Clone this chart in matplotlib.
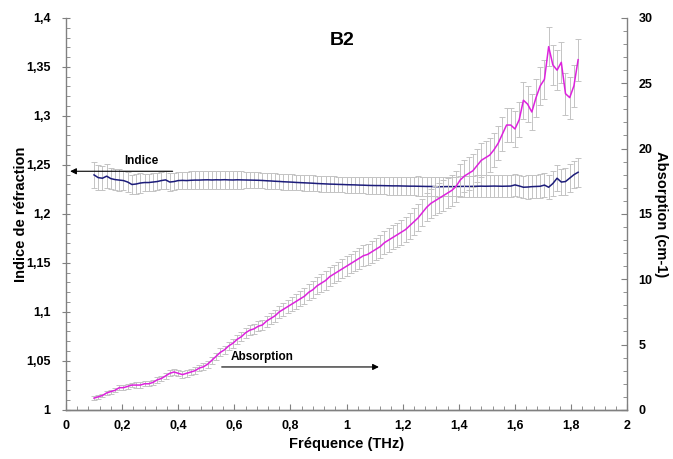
import numpy as np
import matplotlib
matplotlib.use("Agg")
import matplotlib.pyplot as plt
from matplotlib.ticker import MultipleLocator, FuncFormatter

plt.rcParams['font.family'] = ['Liberation Sans', 'DejaVu Sans']
plt.rcParams['font.weight'] = 'bold'

# frequency grid (THz), 0.100 -> 1.825 step 0.015
freq = np.round(0.1 + 0.015 * np.arange(116), 3)

indice = [
    1.2398, 1.2370, 1.2364, 1.2385, 1.2360, 1.2350, 1.2345, 1.2340, 1.2325, 1.2300,
    1.2305, 1.2315, 1.2320, 1.2320, 1.2325, 1.2330, 1.2340, 1.2347, 1.2325, 1.2330,
    1.2340, 1.2342, 1.2340, 1.2343, 1.2345, 1.2345, 1.2347, 1.2348, 1.2346, 1.2348,
    1.2347, 1.2349, 1.2347, 1.2346, 1.2348, 1.2347, 1.2346, 1.2345, 1.2344, 1.2343,
    1.2341, 1.2338, 1.2336, 1.2333, 1.2331, 1.2328, 1.2326, 1.2324, 1.2321, 1.2319,
    1.2317, 1.2315, 1.2313, 1.2310, 1.2308, 1.2306, 1.2304, 1.2303, 1.2301, 1.2300,
    1.2298, 1.2297, 1.2296, 1.2294, 1.2293, 1.2291, 1.2290, 1.2289, 1.2289, 1.2288,
    1.2287, 1.2286, 1.2286, 1.2285, 1.2284, 1.2283, 1.2283, 1.2282, 1.2281, 1.2280,
    1.2280, 1.2278, 1.2277, 1.2278, 1.2279, 1.2278, 1.2279, 1.2280, 1.2281, 1.2280,
    1.2281, 1.2282, 1.2283, 1.2282, 1.2283, 1.2284, 1.2283, 1.2282, 1.2283, 1.2284,
    1.2296, 1.2285, 1.2272, 1.2274, 1.2278, 1.2280, 1.2282, 1.2294, 1.2272, 1.2310,
    1.2364, 1.2325, 1.2330, 1.2365, 1.2400, 1.2425,
]

indice_err = [
    0.013, 0.013, 0.012, 0.012, 0.011, 0.011, 0.011, 0.010, 0.010, 0.010,
    0.010, 0.010, 0.009, 0.009, 0.009, 0.009, 0.009, 0.009, 0.009, 0.009,
    0.009, 0.009, 0.009, 0.009, 0.009, 0.009, 0.009, 0.009, 0.009, 0.009,
    0.009, 0.009, 0.009, 0.009, 0.009, 0.009, 0.008, 0.008, 0.008, 0.008,
    0.008, 0.008, 0.008, 0.008, 0.008, 0.008, 0.008, 0.008, 0.008, 0.008,
    0.008, 0.008, 0.008, 0.008, 0.008, 0.008, 0.008, 0.008, 0.008, 0.008,
    0.008, 0.008, 0.008, 0.008, 0.008, 0.009, 0.009, 0.009, 0.009, 0.009,
    0.009, 0.009, 0.009, 0.009, 0.009, 0.009, 0.009, 0.010, 0.010, 0.010,
    0.010, 0.010, 0.010, 0.010, 0.010, 0.010, 0.010, 0.011, 0.011, 0.011,
    0.011, 0.011, 0.011, 0.011, 0.011, 0.011, 0.011, 0.011, 0.011, 0.011,
    0.011, 0.011, 0.011, 0.012, 0.012, 0.012, 0.012, 0.012, 0.012, 0.013,
    0.013, 0.013, 0.014, 0.014, 0.014, 0.015,
]

absorption = [
    0.9, 1.0, 1.1, 1.3, 1.4, 1.5, 1.7, 1.7, 1.8, 1.9,
    1.9, 1.9, 2.0, 2.0, 2.1, 2.3, 2.4, 2.6, 2.8, 2.9,
    2.8, 2.7, 2.8, 2.9, 3.0, 3.2, 3.3, 3.5, 3.8, 4.1,
    4.4, 4.6, 4.9, 5.1, 5.4, 5.6, 5.9, 6.1, 6.2, 6.4,
    6.5, 6.8, 7.0, 7.2, 7.5, 7.7, 7.9, 8.1, 8.3, 8.5,
    8.7, 9.0, 9.2, 9.5, 9.7, 9.9, 10.2, 10.4, 10.6, 10.8,
    11.0, 11.2, 11.4, 11.6, 11.8, 11.9, 12.1, 12.3, 12.5, 12.8,
    13.0, 13.2, 13.4, 13.6, 13.8, 14.1, 14.4, 14.7, 15.1, 15.5,
    15.8, 16.0, 16.2, 16.4, 16.6, 16.8, 17.1, 17.6, 17.9, 18.1,
    18.3, 18.7, 19.1, 19.3, 19.5, 19.9, 20.4, 21.1, 21.8, 21.8,
    21.5, 22.2, 23.7, 23.4, 22.8, 23.9, 24.8, 25.3, 27.8, 26.4,
    26.0, 26.6, 24.2, 23.9, 24.8, 26.8,
]

absorption_err = [
    0.15, 0.15, 0.15, 0.15, 0.15, 0.15, 0.18, 0.18, 0.18, 0.18,
    0.2, 0.2, 0.2, 0.2, 0.2, 0.22, 0.22, 0.22, 0.24, 0.24,
    0.24, 0.24, 0.25, 0.25, 0.25, 0.26, 0.26, 0.27, 0.28, 0.29,
    0.3, 0.31, 0.32, 0.33, 0.34, 0.35, 0.36, 0.37, 0.38, 0.39,
    0.4, 0.42, 0.44, 0.46, 0.48, 0.5, 0.52, 0.54, 0.56, 0.58,
    0.6, 0.62, 0.64, 0.66, 0.68, 0.7, 0.71, 0.72, 0.73, 0.74,
    0.75, 0.76, 0.77, 0.78, 0.79, 0.8, 0.82, 0.84, 0.86, 0.88,
    0.9, 0.92, 0.94, 0.96, 0.98, 1.0, 1.02, 1.04, 1.06, 1.08,
    1.1, 1.12, 1.14, 1.16, 1.18, 1.2, 1.22, 1.24, 1.25, 1.26,
    1.27, 1.28, 1.29, 1.3, 1.3, 1.3, 1.3, 1.3, 1.3, 1.3,
    1.35, 1.35, 1.4, 1.4, 1.4, 1.45, 1.45, 1.5, 1.5, 1.5,
    1.55, 1.55, 1.6, 1.6, 1.6, 1.6,
]

grey = '#C4C4C4'
axcol = '#808080'

fig = plt.figure(figsize=(6.73, 4.59), dpi=100)
ax = fig.add_axes([0.098, 0.107, 0.834, 0.854])
ax2 = ax.twinx()

ax.errorbar(freq, indice, yerr=indice_err, fmt='none', ecolor=grey,
            elinewidth=0.7, capsize=2.2, capthick=0.7, zorder=1)
ax.plot(freq, indice, color='#1C1C7A', lw=1.1, zorder=3)

ax2.errorbar(freq, absorption, yerr=absorption_err, fmt='none', ecolor=grey,
             elinewidth=0.7, capsize=2.2, capthick=0.7, zorder=1)
ax2.plot(freq, absorption, color='#DD22DD', lw=1.1, zorder=3)

ax.set_xlim(0, 2)
ax.set_ylim(1, 1.4)
ax2.set_ylim(0, 30)

comma = FuncFormatter(lambda v, p: f'{v:g}'.replace('.', ','))
ax.xaxis.set_major_locator(MultipleLocator(0.2))
ax.xaxis.set_minor_locator(MultipleLocator(0.04))
ax.yaxis.set_major_locator(MultipleLocator(0.05))
ax.yaxis.set_minor_locator(MultipleLocator(0.01))
ax2.yaxis.set_major_locator(MultipleLocator(5))
ax2.yaxis.set_minor_locator(MultipleLocator(1))
ax.xaxis.set_major_formatter(comma)
ax.yaxis.set_major_formatter(comma)
ax2.yaxis.set_major_formatter(comma)

for a in (ax, ax2):
    a.spines['top'].set_visible(False)
    for s in a.spines.values():
        s.set_color(axcol)
        s.set_linewidth(1.0)
ax.spines['right'].set_visible(False)
ax2.spines['left'].set_visible(False)

ax.tick_params(axis='x', which='major', direction='in', length=4, color=axcol,
               labelsize=9, pad=7)
ax.tick_params(axis='x', which='minor', direction='in', length=3, color=axcol)
ax.tick_params(axis='y', which='major', direction='inout', length=6, color=axcol,
               labelsize=9, pad=8)
ax.tick_params(axis='y', which='minor', direction='in', length=3, color=axcol)
ax2.tick_params(axis='y', which='major', direction='in', length=4, color=axcol,
                labelsize=9, pad=8)
ax2.tick_params(axis='y', which='minor', direction='in', length=3, color=axcol)

ax.set_xlabel('Fréquence (THz)', fontsize=10.5, fontweight='bold', labelpad=4)
ax.set_ylabel('Indice de réfraction', fontsize=10.5, fontweight='bold', labelpad=-1)
ax2.set_ylabel('Absorption (cm-1)', fontsize=10.5, fontweight='bold',
               rotation=270, labelpad=11)

ax.text(0.985, 1.377, 'B2', fontsize=14, fontweight='bold', ha='center', va='center')

# annotation arrows
ax.annotate('', xy=(0.005, 1.2435), xytext=(0.39, 1.2435),
            arrowprops=dict(arrowstyle='-|>', color='black', lw=0.8, mutation_scale=9))
ax.text(0.27, 1.2475, 'Indice', fontsize=8.5, fontweight='bold', ha='center', va='bottom')
ax.annotate('', xy=(1.125, 1.0438), xytext=(0.545, 1.0438),
            arrowprops=dict(arrowstyle='-|>', color='black', lw=0.8, mutation_scale=9))
ax.text(0.70, 1.0475, 'Absorption', fontsize=8.5, fontweight='bold', ha='center', va='bottom')

fig.savefig('out.png', dpi=100)
